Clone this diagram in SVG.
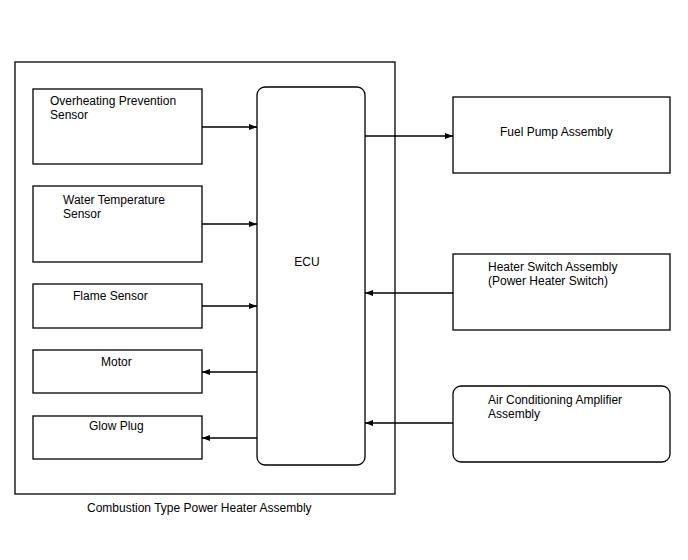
<svg xmlns="http://www.w3.org/2000/svg" width="688" height="560" viewBox="0 0 688 560">
<style>
.box{fill:#fff;stroke:#000;stroke-width:1.3}
.t{font-family:"Liberation Sans",Arial,sans-serif;font-size:12px;fill:#000}
.c{stroke:#000;stroke-width:1.3;fill:none;marker-end:url(#ah)}
</style>
<defs>
<marker id="ah" viewBox="0 0 8 6" refX="8" refY="3" markerWidth="8" markerHeight="6" markerUnits="userSpaceOnUse" orient="auto">
<path d="M0,0 L8,3 L0,6 Z" fill="#000"/>
</marker>
</defs>
<rect width="688" height="560" fill="#fff"/>
<g id="assembly">
<rect class="box" x="15" y="62" width="380" height="432"/>
<text class="t" x="87" y="512">Combustion Type Power Heater Assembly</text>
</g>
<g id="overheating">
<rect class="box" x="33" y="89" width="169" height="75"/>
<text class="t" x="50" y="105">Overheating Prevention</text>
<text class="t" x="50" y="119">Sensor</text>
</g>
<g id="water">
<rect class="box" x="33" y="186" width="169" height="76"/>
<text class="t" x="63" y="204">Water Temperature</text>
<text class="t" x="63" y="218">Sensor</text>
</g>
<g id="flame">
<rect class="box" x="33" y="284" width="169" height="44"/>
<text class="t" x="73" y="300">Flame Sensor</text>
</g>
<g id="motor">
<rect class="box" x="33" y="350" width="169" height="43"/>
<text class="t" x="101" y="366">Motor</text>
</g>
<g id="glow">
<rect class="box" x="33" y="416" width="169" height="43"/>
<text class="t" x="89" y="430">Glow Plug</text>
</g>
<g id="ecu">
<rect class="box" x="257" y="87" width="108" height="378" rx="8"/>
<text class="t" x="307" y="266" text-anchor="middle">ECU</text>
</g>
<g id="fuelpump">
<rect class="box" x="453" y="97" width="217" height="76"/>
<text class="t" x="500" y="136">Fuel Pump Assembly</text>
</g>
<g id="heaterswitch">
<rect class="box" x="453" y="254" width="217" height="76"/>
<text class="t" x="488" y="271">Heater Switch Assembly</text>
<text class="t" x="488" y="285">(Power Heater Switch)</text>
</g>
<g id="acamp">
<rect class="box" x="453" y="386" width="217" height="76" rx="8"/>
<text class="t" x="488" y="404">Air Conditioning Amplifier</text>
<text class="t" x="488" y="418">Assembly</text>
</g>
<g id="connectors">
<path class="c" d="M202,127 H257"/>
<path class="c" d="M202,224 H257"/>
<path class="c" d="M202,306 H257"/>
<path class="c" d="M257,372 H202"/>
<path class="c" d="M257,438 H202"/>
<path class="c" d="M365,136 H453"/>
<path class="c" d="M453,293 H365"/>
<path class="c" d="M453,423 H365"/>
</g>
</svg>
